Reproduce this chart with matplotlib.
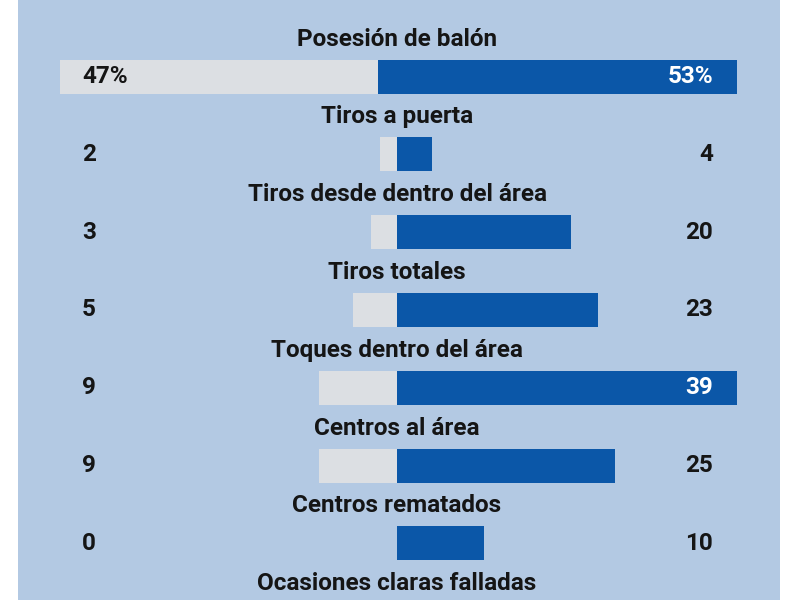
import matplotlib
matplotlib.use('Agg')
import matplotlib.pyplot as plt
from matplotlib import font_manager

# stats rows (left team = grey, right team = blue)
categories = ['Posesión de balón', 'Tiros a puerta', 'Tiros desde dentro del área',
              'Tiros totales', 'Toques dentro del área', 'Centros al área',
              'Centros rematados', 'Ocasiones claras falladas']
left_vals = [47, 2, 3, 5, 9, 9, 0, 1]
right_vals = [53, 4, 20, 23, 39, 25, 10, 3]

bg = '#b3c9e3'
grey = '#dcdfe3'
blue = '#0b57a8'
ink = '#151515'

names = {f.name for f in font_manager.fontManager.ttflist}
fam = [f for f in ['Liberation Sans Narrow', 'Roboto', 'DejaVu Sans'] if f in names]
plt.rcParams['font.family'] = fam

fig = plt.figure(figsize=(8, 6), dpi=100, facecolor='white')
# panel runs from x=18px to x=780px
ax = fig.add_axes([18 / 800, 0, 762 / 800, 1])
ax.set_facecolor(bg)
ax.set_xticks([])
ax.set_yticks([])
for s in ax.spines.values():
    s.set_visible(False)

px_per_unit = 340 / max(right_vals[1:])
center_px = 397
ax.set_xlim((18 - center_px) / px_per_unit, (780 - center_px) / px_per_unit)
row_px = 77.8
ax.set_ylim((600 - 76.5) / row_px, -76.5 / row_px)

bar_h = 34 / row_px
xmax = max(right_vals[1:])
xmin = (60 - center_px) / px_per_unit
lab_left = (82 - center_px) / px_per_unit
lab_right = (713 - center_px) / px_per_unit
fs = 17.5

for i, (cat, lv, rv) in enumerate(zip(categories, left_vals, right_vals)):
    ax.text(0, i - 0.48, cat, ha='center', va='center', fontsize=fs,
            fontweight='bold', color=ink)
    if i == 0:
        span = xmax - xmin
        split = xmin + span * lv / 100
        ax.barh(i, split - xmin, left=xmin, height=bar_h, color=grey)
        ax.barh(i, xmax - split, left=split, height=bar_h, color=blue)
        ax.text(lab_left, i, f'{lv}%', ha='left', va='center', fontsize=fs,
                fontweight='bold', color=ink)
        ax.text(lab_right, i, f'{rv}%', ha='right', va='center', fontsize=fs,
                fontweight='bold', color='white')
        continue
    ax.barh(i, -lv, left=0, height=bar_h, color=grey)
    ax.barh(i, rv, left=0, height=bar_h, color=blue)
    ax.text(lab_left, i, str(lv), ha='left', va='center', fontsize=fs,
            fontweight='bold', color=ink)
    rcol = 'white' if rv * px_per_unit > 713 - center_px else ink
    ax.text(lab_right, i, str(rv), ha='right', va='center', fontsize=fs,
            fontweight='bold', color=rcol)

fig.savefig('out.png', dpi=100, facecolor='white')
